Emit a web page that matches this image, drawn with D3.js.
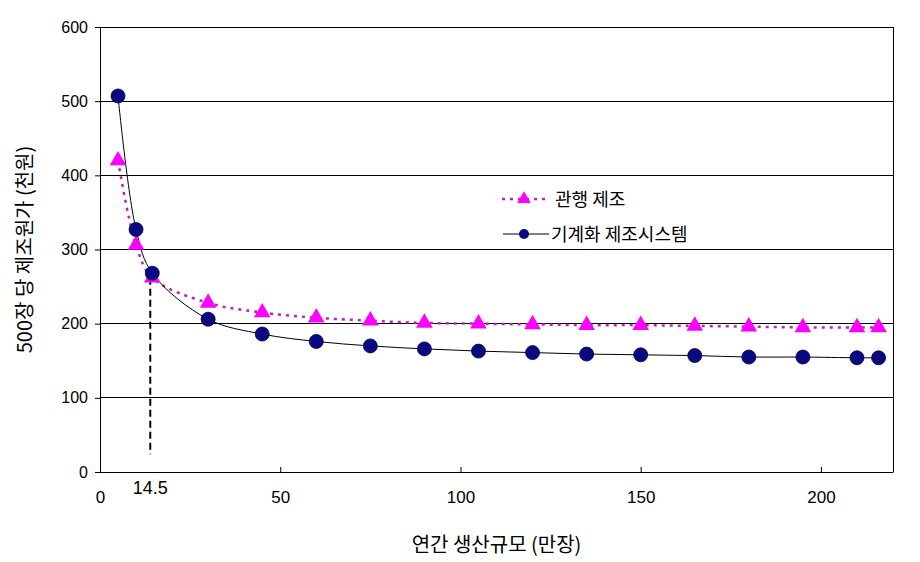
<!DOCTYPE html>
<html><head><meta charset="utf-8">
<script src="https://cdn.jsdelivr.net/npm/d3@7"></script>
<style>body{margin:0;background:#fff}svg{display:block}</style>
</head><body>
<script>
const xValues = [5, 10, 14.5, 30, 45, 60, 75, 90, 105, 120, 135, 150, 165, 180, 195, 210, 216];
const conventional = [420, 306, 262, 228, 215, 208, 204, 201, 200, 199, 198, 198, 197, 196, 195, 195, 195];
const mechanized = [507, 327, 268, 206, 186, 176, 170, 166, 163, 161, 159, 158, 157, 155, 155, 154, 154];
const xTicks = [0, 50, 100, 150, 200];
const yTicks = [0, 100, 200, 300, 400, 500, 600];
const seriesNames = ["관행 제조", "기계화 제조시스템"];
const markerX = 14.5;
const markerLabel = "14.5";
const xTitle = "연간 생산규모 (만장)";
const yTitle = "500장 당 제조원가 (천원)";

const W = 920, H = 562;
const m = {left: 100, right: 27, top: 27, bottom: 90};
const svg = d3.select("body").append("svg").attr("width", W).attr("height", H);
const x = d3.scaleLinear().domain([0, 220]).range([m.left, W - m.right]);
const y = d3.scaleLinear().domain([0, 600]).range([H - m.bottom, m.top]);
const font = "'Liberation Sans', Arial, sans-serif";
const kfont = "'Noto Sans CJK KR', sans-serif";

// gridlines
svg.append("g").selectAll("line").data(yTicks.filter(d => d > 0)).join("line")
  .attr("x1", x(0)).attr("x2", x(220)).attr("y1", d => y(d)).attr("y2", d => y(d))
  .attr("stroke", "#000").attr("stroke-width", 1).attr("shape-rendering", "crispEdges");
// right border
svg.append("line").attr("x1", x(220)).attr("x2", x(220)).attr("y1", y(600)).attr("y2", y(0))
  .attr("stroke", "#000").attr("shape-rendering", "crispEdges");

// y axis
const ya = svg.append("g").attr("transform", `translate(${x(0)},0)`)
  .call(d3.axisLeft(y).tickValues(yTicks).tickSize(5).tickPadding(7));
ya.select(".domain").attr("stroke", "#000");
ya.selectAll("text").attr("font-family", font).attr("font-size", 16).attr("fill", "#000");

// x axis
const xa = svg.append("g").attr("transform", `translate(0,${y(0)})`)
  .call(d3.axisBottom(x).tickValues(xTicks).tickSize(-5).tickPadding(19).tickSizeOuter(0));
xa.select(".domain").attr("stroke", "#000");
xa.selectAll("text").attr("font-family", font).attr("font-size", 17).attr("fill", "#000");
xa.selectAll(".tick line").filter(d => d === 0).remove();

// dashed marker line
svg.append("line").attr("x1", x(markerX) - 2).attr("x2", x(markerX) - 2)
  .attr("y1", y(262)).attr("y2", y(24))
  .attr("stroke", "#000").attr("stroke-width", 2).attr("stroke-dasharray", "7,4");
svg.append("text").attr("x", x(markerX) - 2).attr("y", y(0) + 22)
  .attr("text-anchor", "middle").attr("font-family", font).attr("font-size", 18).text(markerLabel);

const curve = d3.curveCatmullRom.alpha(0.5);
const convData = xValues.map((v, i) => [v, conventional[i]]);
const mechData = xValues.map((v, i) => [v, mechanized[i]]);
const line = d3.line().x(d => x(d[0])).y(d => y(d[1])).curve(curve);

svg.append("path").attr("d", line(convData)).attr("fill", "none")
  .attr("stroke", "#c020c0").attr("stroke-width", 2.5).attr("stroke-dasharray", "3,5");
svg.append("path").attr("d", line(mechData)).attr("fill", "none")
  .attr("stroke", "#000").attr("stroke-width", 1);

const tri = d3.symbol().type(d3.symbolTriangle).size(120);
const triColor = "#ff00ff", dotColor = "#0a0a80";
svg.append("g").selectAll("path").data(convData).join("path")
  .attr("transform", d => `translate(${x(d[0])},${y(d[1])})`).attr("d", tri)
  .attr("fill", triColor);
svg.append("g").selectAll("circle").data(mechData).join("circle")
  .attr("cx", d => x(d[0])).attr("cy", d => y(d[1])).attr("r", 7)
  .attr("fill", dotColor).attr("stroke", "#000050").attr("stroke-width", 0.8);

// legend
const lg = svg.append("g");
lg.append("line").attr("x1", 502).attr("x2", 546).attr("y1", 199).attr("y2", 199)
  .attr("stroke", "#c020c0").attr("stroke-width", 2.5).attr("stroke-dasharray", "3,5");
lg.append("path").attr("transform", "translate(524,199)").attr("d", d3.symbol().type(d3.symbolTriangle).size(80)).attr("fill", triColor);
lg.append("text").attr("x", 555).attr("y", 206).attr("font-family", kfont).attr("font-size", 18).text(seriesNames[0]);
lg.append("line").attr("x1", 503).attr("x2", 549).attr("y1", 234).attr("y2", 234)
  .attr("stroke", "#000").attr("stroke-width", 1);
lg.append("circle").attr("cx", 524).attr("cy", 234).attr("r", 5).attr("fill", dotColor);
lg.append("text").attr("x", 551).attr("y", 241).attr("font-family", kfont).attr("font-size", 18).text(seriesNames[1]);

// titles
svg.append("text").attr("x", x(110)).attr("y", 552).attr("text-anchor", "middle")
  .attr("font-family", kfont).attr("font-size", 20).text(xTitle);
svg.append("text").attr("transform", `translate(32,${y(300)}) rotate(-90)`).attr("text-anchor", "middle")
  .attr("font-family", kfont).attr("font-size", 20).text(yTitle);
</script>
</body></html>
